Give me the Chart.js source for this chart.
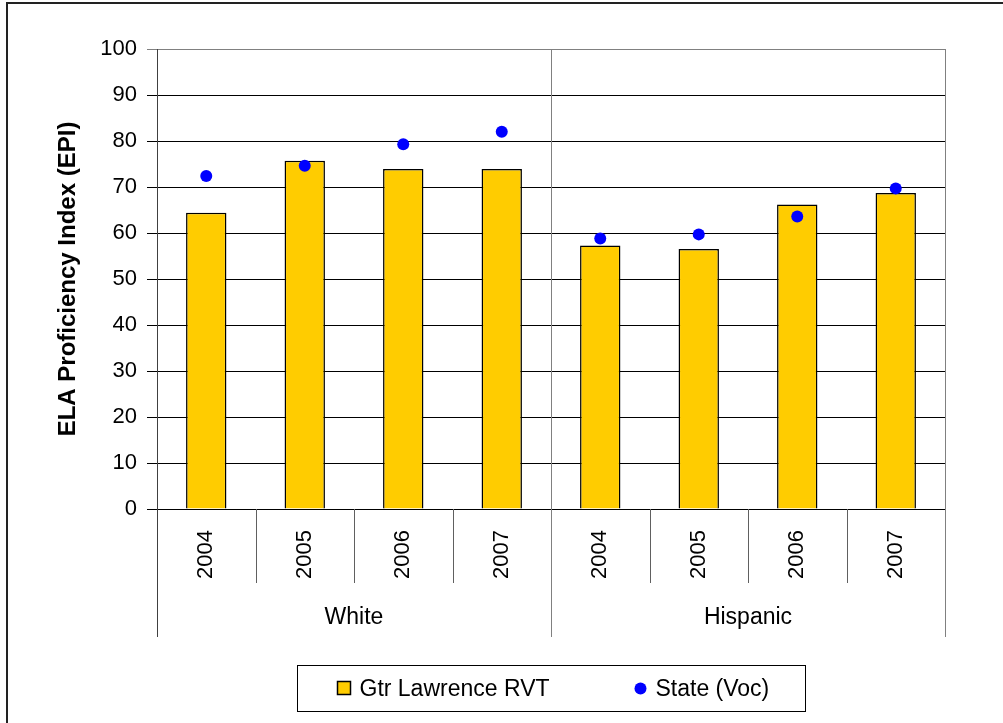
<!DOCTYPE html>
<html>
<head>
<meta charset="utf-8">
<title>ELA Proficiency Index</title>
<script src="https://cdn.jsdelivr.net/npm/chart.js@4"></script>
<style>
    html, body { margin: 0; padding: 0; background: #fff; overflow: hidden; }
    #wrap { position: relative; width: 1003px; height: 723px; }
    /* outer frame, right and bottom edges run off the page */
    #frame { position: absolute; left: 6px; top: 2px; width: 1200px; height: 900px;
             border-left: 2px solid #222; border-top: 2px solid #222; pointer-events: none; }
    canvas { position: absolute; left: 0; top: 0; }
</style>
</head>
<body>
<div id="wrap">
    <canvas id="epiChart" width="1003" height="723"></canvas>
    <div id="frame"></div>
</div>
<script>
// ---------------------------------------------------------
// DATA
// ---------------------------------------------------------
const groups = ['White', 'Hispanic'];
const years = ['2004', '2005', '2006', '2007'];
const gtrLawrence = [64.4, 75.7, 73.9, 73.9, 57.3, 56.5, 66.2, 68.7];
const stateVoc = [72.4, 74.6, 79.3, 82.0, 58.8, 59.7, 63.6, 69.7];
const yMin = 0, yMax = 100, yStep = 10;

const FONT = "'Liberation Sans', Arial, sans-serif";
const categories = groups.flatMap(() => years);

// ---------------------------------------------------------
// GROUPED AXIS + BOXED LEGEND
// ---------------------------------------------------------
const groupAxis = {
    id: 'groupAxis',
    afterDraw(chart) {
        const { ctx, chartArea } = chart;
        const xs = chart.scales.x;
        const n = categories.length;
        const perGroup = years.length;
        const step = xs.getPixelForValue(1) - xs.getPixelForValue(0);
        const edge = i => xs.getPixelForValue(i) - step / 2;
        const bottom = chartArea.bottom;

        ctx.save();
        ctx.lineWidth = 1;
        for (let i = 0; i <= n; i++) {
            const x = Math.round(edge(i)) + 0.5;
            ctx.beginPath();
            if (i === 0) {
                ctx.strokeStyle = '#404040';
                ctx.moveTo(x, bottom);
                ctx.lineTo(x, bottom + 128);
            } else if (i % perGroup === 0) {
                ctx.strokeStyle = '#808080';
                ctx.moveTo(x, chartArea.top);
                ctx.lineTo(x, bottom + 128);
            } else {
                ctx.strokeStyle = '#606060';
                ctx.moveTo(x, bottom);
                ctx.lineTo(x, bottom + 74);
            }
            ctx.stroke();
        }

        // group names under the year labels
        ctx.fillStyle = '#000';
        ctx.font = `23px ${FONT}`;
        ctx.textAlign = 'center';
        ctx.textBaseline = 'middle';
        groups.forEach((g, gi) => {
            const cx = (edge(gi * perGroup) + edge((gi + 1) * perGroup)) / 2;
            ctx.fillText(g, cx, bottom + 109);
        });

        // legend box
        const midX = (chartArea.left + chartArea.right) / 2;
        const boxW = 508, boxH = 46;
        const bx = Math.round(midX - boxW / 2) + 0.5;
        const by = bottom + 156.5;
        ctx.strokeStyle = '#000';
        ctx.strokeRect(bx, by, boxW, boxH);

        const bars = chart.data.datasets.find(d => d.type === 'bar');
        const dots = chart.data.datasets.find(d => d.type === 'line');
        const ly = by + boxH / 2;
        ctx.textAlign = 'left';
        ctx.font = `23px ${FONT}`;

        ctx.fillStyle = bars.backgroundColor;
        ctx.fillRect(bx + 40, ly - 7, 13, 13);
        ctx.lineWidth = 1.5;
        ctx.strokeStyle = '#000';
        ctx.strokeRect(bx + 40, ly - 7, 13, 13);
        ctx.fillStyle = '#000';
        ctx.fillText(bars.label, bx + 62, ly + 1);

        ctx.fillStyle = dots.backgroundColor;
        ctx.beginPath();
        ctx.arc(bx + 343, ly, 6, 0, Math.PI * 2);
        ctx.fill();
        ctx.fillStyle = '#000';
        ctx.fillText(dots.label, bx + 358, ly + 1);
        ctx.restore();
    }
};

// ---------------------------------------------------------
// CHART
// ---------------------------------------------------------
const ctx = document.getElementById('epiChart').getContext('2d');
new Chart(ctx, {
    data: {
        labels: categories,
        datasets: [
            {
                type: 'line',
                label: 'State (Voc)',
                data: stateVoc,
                showLine: false,
                pointRadius: 6,
                pointHoverRadius: 6,
                pointBackgroundColor: '#0000FF',
                pointBorderWidth: 0,
                backgroundColor: '#0000FF',
                borderColor: '#0000FF',
                order: 0
            },
            {
                type: 'bar',
                label: 'Gtr Lawrence RVT',
                data: gtrLawrence,
                backgroundColor: '#FFCC00',
                borderColor: '#000',
                borderWidth: 1.5,
                barPercentage: 0.41,
                categoryPercentage: 1,
                order: 1
            }
        ]
    },
    options: {
        responsive: false,
        animation: false,
        layout: { padding: { top: 49, right: 58, left: 0, bottom: 0 } },
        plugins: {
            legend: { display: false },
            tooltip: { enabled: false }
        },
        scales: {
            x: {
                grid: { display: false, drawTicks: false },
                border: { display: false },
                ticks: {
                    color: '#000',
                    font: { family: FONT, size: 22 },
                    minRotation: 90,
                    maxRotation: 90,
                    padding: 21,
                    autoSkip: false
                },
                afterFit(scale) { scale.height = 214; }
            },
            y: {
                min: yMin,
                max: yMax,
                grid: {
                    color: c => c.tick && c.tick.value === yMax ? '#808080' : '#000',
                    lineWidth: 1,
                    tickLength: 10
                },
                border: { color: '#404040', width: 1 },
                ticks: {
                    stepSize: yStep,
                    color: '#000',
                    padding: 10,
                    font: { family: FONT, size: 22 }
                },
                title: {
                    display: true,
                    text: 'ELA Proficiency Index (EPI)',
                    color: '#000',
                    font: { family: FONT, size: 24, weight: 'bold' },
                    padding: { top: 54, bottom: 0 }
                },
                afterFit(scale) { scale.width = 157; }
            }
        }
    },
    plugins: [groupAxis]
});
</script>
</body>
</html>
